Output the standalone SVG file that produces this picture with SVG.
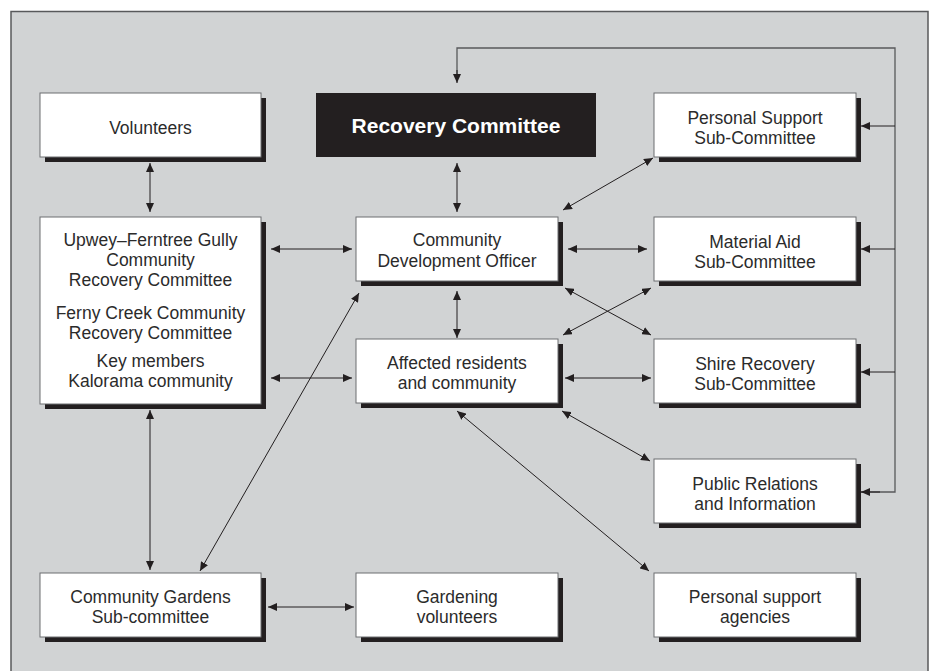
<svg xmlns="http://www.w3.org/2000/svg" width="932" height="671" viewBox="0 0 932 671">
<defs>
<style>
.frame{fill:#d1d3d4;stroke:#58595b;stroke-width:1.5}
.box{fill:#ffffff;stroke:#6d6e71;stroke-width:1}
.shadow{fill:#231f20}
.dark{fill:#231f20}
.t{font-family:"Liberation Sans",Arial,Helvetica,sans-serif;font-size:17.5px;fill:#2b2b2b;text-anchor:middle}
.tb{font-family:"Liberation Sans",Arial,Helvetica,sans-serif;font-size:21px;font-weight:bold;fill:#ffffff;text-anchor:middle}
.c{fill:none;stroke:#231f20;stroke-width:1;marker-start:url(#ah);marker-end:url(#ah)}
.fb{fill:none;stroke:#58595b;stroke-width:1.3}
.fa{fill:none;stroke:#231f20;stroke-width:1;marker-end:url(#ah)}
</style>
<marker id="ah" viewBox="0 0 9 8" refX="9" refY="4" markerWidth="9" markerHeight="8" markerUnits="userSpaceOnUse" orient="auto-start-reverse">
<path d="M0,0 L9,4 L0,8 z" fill="#231f20"/>
</marker>
</defs>
<rect class="frame" x="11" y="11.5" width="917" height="680"/>

<g id="connectors">
<line class="c" x1="150" y1="163" x2="150" y2="212"/>
<line class="c" x1="457" y1="163" x2="457" y2="212"/>
<path class="fb" d="M861,492 H895 V48 H457 V75"/>
<path class="fa" d="M457,70 V83"/>
<path class="fa" d="M895,126 H861"/>
<path class="fa" d="M895,249 H861"/>
<path class="fa" d="M895,372 H861"/>
<path class="fa" d="M880,492 H861"/>
<line class="c" x1="271" y1="249" x2="352" y2="249"/>
<line class="c" x1="568" y1="249" x2="647" y2="249"/>
<line class="c" x1="563" y1="210" x2="653" y2="158"/>
<line class="c" x1="457" y1="291" x2="457" y2="338"/>
<line class="c" x1="565" y1="288" x2="651" y2="335"/>
<line class="c" x1="651" y1="288" x2="563" y2="335"/>
<line class="c" x1="271" y1="378" x2="352" y2="378"/>
<line class="c" x1="565" y1="378" x2="651" y2="378"/>
<line class="c" x1="562" y1="411" x2="650" y2="461"/>
<line class="c" x1="457" y1="411" x2="649" y2="571"/>
<line class="c" x1="150" y1="410" x2="150" y2="570"/>
<line class="c" x1="200" y1="571" x2="359" y2="293"/>
<line class="c" x1="268" y1="607" x2="354" y2="607"/>
</g>

<g id="volunteers">
<rect class="shadow" x="45" y="98" width="221" height="64"/>
<rect class="box" x="40" y="93" width="221" height="64"/>
<text class="t" x="150.5" y="134">Volunteers</text>
</g>

<g id="recovery-committee">
<rect class="dark" x="316" y="93" width="280" height="64"/>
<text class="tb" x="456" y="132.7">Recovery Committee</text>
</g>

<g id="personal-support">
<rect class="shadow" x="659" y="98" width="202" height="64"/>
<rect class="box" x="654" y="93" width="202" height="64"/>
<text class="t" x="755" y="124">Personal Support</text>
<text class="t" x="755" y="144">Sub-Committee</text>
</g>

<g id="local-committees">
<rect class="shadow" x="45" y="222" width="221" height="187"/>
<rect class="box" x="40" y="217" width="221" height="187"/>
<text class="t" x="150.5" y="246">Upwey–Ferntree Gully</text>
<text class="t" x="150.5" y="266">Community</text>
<text class="t" x="150.5" y="286">Recovery Committee</text>
<text class="t" x="150.5" y="319">Ferny Creek Community</text>
<text class="t" x="150.5" y="338.5">Recovery Committee</text>
<text class="t" x="150.5" y="366.5">Key members</text>
<text class="t" x="150.5" y="386.5">Kalorama community</text>
</g>

<g id="cdo">
<rect class="shadow" x="361" y="222" width="202" height="64"/>
<rect class="box" x="356" y="217" width="202" height="64"/>
<text class="t" x="457" y="246">Community</text>
<text class="t" x="457" y="266.5">Development Officer</text>
</g>

<g id="material-aid">
<rect class="shadow" x="659" y="222" width="202" height="64"/>
<rect class="box" x="654" y="217" width="202" height="64"/>
<text class="t" x="755" y="247.5">Material Aid</text>
<text class="t" x="755" y="267.5">Sub-Committee</text>
</g>

<g id="affected">
<rect class="shadow" x="361" y="344" width="202" height="64"/>
<rect class="box" x="356" y="339" width="202" height="64"/>
<text class="t" x="457" y="368.5">Affected residents</text>
<text class="t" x="457" y="389">and community</text>
</g>

<g id="shire-recovery">
<rect class="shadow" x="659" y="344" width="202" height="64"/>
<rect class="box" x="654" y="339" width="202" height="64"/>
<text class="t" x="755" y="369.5">Shire Recovery</text>
<text class="t" x="755" y="390">Sub-Committee</text>
</g>

<g id="public-relations">
<rect class="shadow" x="659" y="464" width="202" height="64"/>
<rect class="box" x="654" y="459" width="202" height="64"/>
<text class="t" x="755" y="490">Public Relations</text>
<text class="t" x="755" y="510">and Information</text>
</g>

<g id="support-agencies">
<rect class="shadow" x="659" y="578" width="202" height="64"/>
<rect class="box" x="654" y="573" width="202" height="64"/>
<text class="t" x="755" y="602.5">Personal support</text>
<text class="t" x="755" y="623">agencies</text>
</g>

<g id="community-gardens">
<rect class="shadow" x="45" y="578" width="221" height="64"/>
<rect class="box" x="40" y="573" width="221" height="64"/>
<text class="t" x="150.5" y="602.5">Community Gardens</text>
<text class="t" x="150.5" y="622.5">Sub-committee</text>
</g>

<g id="gardening-volunteers">
<rect class="shadow" x="361" y="578" width="202" height="64"/>
<rect class="box" x="356" y="573" width="202" height="64"/>
<text class="t" x="457" y="602.5">Gardening</text>
<text class="t" x="457" y="622.5">volunteers</text>
</g>
</svg>
